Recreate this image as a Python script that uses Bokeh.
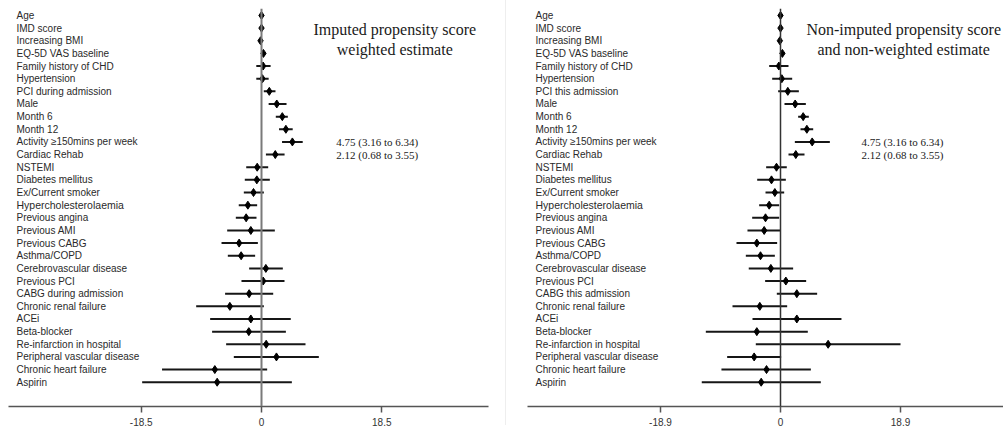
from bokeh.plotting import figure
from bokeh.models import ColumnDataSource, Range1d, FixedTicker, CustomJSTickFormatter, Span, Div
from bokeh.layouts import row
from bokeh.core.properties import value
from bokeh.embed import file_html
from bokeh.resources import INLINE

labels_left = ["Age", "IMD score", "Increasing BMI", "EQ-5D VAS baseline", "Family history of CHD",
               "Hypertension", "PCI during admission", "Male", "Month 6", "Month 12",
               "Activity \u2265150mins per week", "Cardiac Rehab", "NSTEMI", "Diabetes mellitus",
               "Ex/Current smoker", "Hypercholesterolaemia", "Previous angina", "Previous AMI",
               "Previous CABG", "Asthma/COPD", "Cerebrovascular disease", "Previous PCI",
               "CABG during admission", "Chronic renal failure", "ACEi", "Beta-blocker",
               "Re-infarction in hospital", "Peripheral vascular disease", "Chronic heart failure", "Aspirin"]
labels_right = ["Age", "IMD score", "Increasing BMI", "EQ-5D VAS baseline", "Family history of CHD",
                "Hypertension", "PCI this admission", "Male", "Month 6", "Month 12",
                "Activity \u2265150mins per week", "Cardiac Rehab", "NSTEMI", "Diabetes mellitus",
                "Ex/Current smoker", "Hypercholesterolaemia", "Previous angina", "Previous AMI",
                "Previous CABG", "Asthma/COPD", "Cerebrovascular disease", "Previous PCI",
                "CABG this admission", "Chronic renal failure", "ACEi", "Beta-blocker",
                "Re-infarction in hospital", "Peripheral vascular disease", "Chronic heart failure", "Aspirin"]

est_left = [0.0, 0.0, -0.15, 0.3, 0.25, 0.15, 1.2, 2.35, 3.2, 3.75, 4.75, 2.12, -0.66, -0.72, -1.23,
            -2.1, -2.36, -1.64, -3.44, -3.13, 0.67, 0.26, -1.9, -4.87, -1.64, -1.95, 0.72, 2.3, -7.18, -6.82]
lo_left = [-0.1, -0.1, -0.25, 0.2, -0.8, -0.8, 0.35, 1.1, 2.2, 2.7, 3.16, 0.68, -2.35, -2.57, -2.72,
           -3.5, -3.95, -5.28, -6.15, -5.18, -1.9, -3.08, -5.6, -10.05, -7.9, -7.6, -5.44, -4.26, -15.3, -18.36]
hi_left = [0.1, 0.1, -0.05, 0.4, 1.4, 1.1, 2.15, 3.85, 4.05, 4.8, 6.34, 3.55, 1.03, 1.28, 0.36,
           -0.67, -0.77, 2.05, -0.56, -0.98, 3.28, 3.54, 1.8, 0.36, 4.5, 3.75, 6.77, 8.82, 0.87, 4.67]

est_right = [0.0, 0.0, -0.1, 0.3, -0.26, 0.21, 1.15, 2.31, 3.57, 4.15, 4.99, 2.41, -0.63, -1.42, -0.89,
             -1.78, -2.36, -2.57, -3.73, -3.15, -1.52, 0.84, 2.57, -3.26, 2.57, -3.73, 7.5, -4.15, -2.2, -3.04]
lo_right = [-0.1, -0.1, -0.2, 0.2, -1.78, -1.31, -0.37, 0.63, 2.78, 3.15, 2.26, 1.26, -2.26, -3.67, -2.36,
            -3.36, -4.46, -5.2, -6.93, -5.46, -5.0, -2.42, -0.58, -7.56, -4.41, -11.76, -3.89, -8.4, -9.3, -12.4]
hi_right = [0.1, 0.1, 0.0, 0.4, 1.26, 1.84, 2.89, 3.99, 4.46, 5.15, 7.77, 3.78, 0.99, 0.84, 0.58,
            -0.21, -0.21, 0.0, -0.53, -0.89, 1.99, 4.04, 5.77, 1.05, 9.6, 4.3, 18.9, 0.1, 4.78, 6.35]

ticks_left = [-18.5, 0, 18.5]
ticks_right = [-18.9, 0, 18.9]
title_left = ["Imputed propensity score", "weighted estimate"]
title_right = ["Non-imputed propensity score", "and non-weighted estimate"]
annotations = ["4.75 (3.16 to 6.34)", "2.12 (0.68 to 3.55)"]
annot_rows = [10, 11]


def make_panel(labels, est, lo, hi, ticks, title, xr, title_x, annot_x, zero_color, zero_width,
               border_left, border_right, frame_w):
    n = len(labels)
    ys = list(range(n))
    p = figure(frame_width=frame_w, frame_height=398, output_backend="svg", toolbar_location=None,
               x_range=Range1d(*xr), y_range=Range1d(n - 1 + 1.92, -0.55), y_axis_type=None,
               min_border_left=border_left, min_border_right=border_right, min_border_top=8,
               min_border_bottom=0)
    p.outline_line_color = None
    p.xgrid.visible = False
    p.ygrid.visible = False
    p.background_fill_color = "white"
    p.border_fill_color = "white"

    p.add_layout(Span(location=0, dimension="height", line_color=zero_color, line_width=zero_width))

    src = ColumnDataSource(dict(y=ys, est=est, lo=lo, hi=hi, lab=labels,
                                fs=["10.5px" if l == "Hypercholesterolaemia" else "10px" for l in labels]))
    p.segment(x0="lo", y0="y", x1="hi", y1="y", source=src, line_width=2, line_color="#161616")
    p.scatter(x="est", y="y", source=src, marker="diamond", size=8, color="#000000")

    p.text(x=xr[0], y="y", text="lab", source=src, x_offset=8, text_align="left",
           text_baseline="middle", text_font=value("Liberation Sans"), text_font_size="fs",
           text_color="#2a2a2a")

    p.text(x=[title_x, title_x], y=[1.1, 2.69], text=title, text_align="center", text_baseline="middle",
           text_font=value("Liberation Serif"), text_font_size="16px", text_color="#1a1a1a")
    p.text(x=[annot_x, annot_x], y=annot_rows, text=annotations, text_align="left", text_baseline="middle",
           text_font=value("Liberation Serif"), text_font_size="11px", text_color="#1a1a1a")

    ax = p.xaxis[0]
    ax.ticker = FixedTicker(ticks=ticks)
    ax.formatter = CustomJSTickFormatter(code="return tick == 0 ? '0' : tick.toFixed(1);")
    ax.axis_line_color = "#555555"
    ax.axis_line_width = 1.5
    ax.major_tick_line_color = "#555555"
    ax.major_tick_line_width = 1.5
    ax.major_tick_out = 6
    ax.major_tick_in = 0
    ax.minor_tick_line_color = None
    ax.major_label_text_font = "Liberation Sans"
    ax.major_label_text_font_size = "10px"
    ax.major_label_text_color = "#333333"
    ax.major_label_standoff = 5
    return p


p1 = make_panel(labels_left, est_left, lo_left, hi_left, ticks_left, title_left,
                (-253 / 6.5, 227 / 6.5), 20.5, 11.5, "#7a7a7a", 2, 8, 17, 480)
p2 = make_panel(labels_right, est_right, lo_right, hi_right, ticks_right, title_right,
                (-253 / 6.35, 223 / 6.35), 19.4, 12.75, "#333333", 1.5, 21, 0, 476)

sep = Div(width=1, height=425, margin=0, styles={"background-color": "#eeeeee"})
layout = row(p1, sep, p2)

open("out.html", "w").write(file_html(layout, INLINE))
